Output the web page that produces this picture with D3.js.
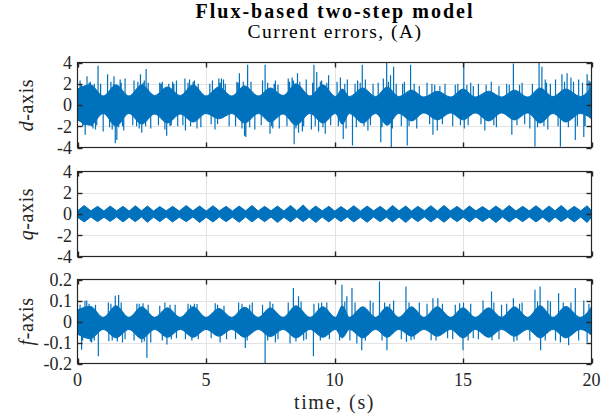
<!DOCTYPE html>
<html lang="en">
<head>
  <meta charset="UTF-8">
  <title>Flux-based two-step model</title>
</head>
<body style="margin:0; background:#fff">
  <div id="chart"></div>
  <script src="https://d3js.org/d3.v7.min.js"></script>
  <script>
    const width = 615
    const height = 419
    const serif = 'Liberation Serif'

    // tick labels
    const timeTicks = [0, 5, 10, 15, 20]
    const currentTicks = [-4, -2, 0, 2, 4]
    const fluxTicks = [-0.2, -0.1, 0, 0.1, 0.2]

    // d / f envelopes: lobe nodes and lobe centres (s)
    const envT = [0, 0.5, 1.0, 1.5, 2.0, 2.5, 3.0, 3.5, 4.0, 4.5,
      5.0, 5.5, 6.0, 6.5, 7.04, 7.5, 8.0, 8.5, 9.05, 9.55,
      10.04, 10.3, 10.58, 11.1, 11.6, 12.05, 12.5, 13.0, 13.48, 14.0,
      14.52, 15.0, 15.48, 16.0, 16.5, 17.0, 17.52, 18.0, 18.5, 19.0,
      19.57, 20]
    const dHi = [1.5, 1.9, 0.85, 1.9, 0.85, 1.9, 0.9, 1.7, 0.9, 1.9,
      0.85, 1.7, 0.85, 1.8, 0.85, 1.6, 0.9, 2.0, 0.85, 1.9,
      0.8, 1.5, 0.8, 1.6, 0.8, 1.7, 0.8, 1.4, 0.75, 1.3,
      0.75, 1.5, 0.75, 1.3, 0.75, 1.4, 0.75, 1.6, 0.8, 1.5,
      0.8, 1.7]
    const dLo = [-1.4, -1.9, -0.8, -2.0, -0.8, -1.8, -0.85, -1.7, -0.85, -1.6,
      -0.8, -1.3, -0.8, -1.7, -0.8, -1.6, -0.85, -1.9, -0.8, -1.7,
      -0.8, -1.8, -0.8, -1.7, -0.8, -1.9, -0.8, -1.5, -0.75, -1.4,
      -0.75, -1.4, -0.75, -1.5, -0.75, -1.4, -0.75, -1.7, -0.8, -1.6,
      -0.8, -1.3]
    const fHi = [0.055, 0.072, 0.02, 0.075, 0.02, 0.07, 0.02, 0.065, 0.02, 0.07,
      0.02, 0.062, 0.02, 0.068, 0.02, 0.065, 0.02, 0.075, 0.02, 0.07,
      0.02, 0.075, 0.02, 0.07, 0.02, 0.07, 0.02, 0.07, 0.02, 0.07,
      0.02, 0.065, 0.02, 0.065, 0.02, 0.07, 0.02, 0.075, 0.02, 0.072,
      0.02, 0.07]
    const fLo = [-0.06, -0.082, -0.038, -0.078, -0.038, -0.082, -0.038, -0.075, -0.038, -0.075,
      -0.038, -0.07, -0.038, -0.075, -0.038, -0.072, -0.038, -0.078, -0.038, -0.075,
      -0.038, -0.078, -0.038, -0.078, -0.038, -0.075, -0.038, -0.07, -0.038, -0.07,
      -0.038, -0.078, -0.038, -0.075, -0.038, -0.07, -0.038, -0.078, -0.038, -0.078,
      -0.038, -0.065]

    // q envelope: nodes and diamond peaks (s)
    const qT = [0, 0.26, 0.52, 0.78, 1.03, 1.27, 1.52, 1.77, 2.01, 2.25,
      2.49, 2.72, 2.96, 3.2, 3.45, 3.7, 3.96, 4.23, 4.49, 4.75,
      5.01, 5.27, 5.52, 5.78, 6.03, 6.29, 6.54, 6.79, 7.03, 7.28,
      7.53, 7.78, 8.03, 8.29, 8.53, 8.78, 9.02, 9.27, 9.52, 9.78,
      10.01, 10.25, 10.5, 10.75, 11.01, 11.27, 11.52, 11.78, 12.02, 12.26,
      12.51, 12.77, 13.0, 13.24, 13.5, 13.75, 14.0, 14.26, 14.51, 14.77,
      15.01, 15.25, 15.5, 15.76, 16.02, 16.28, 16.54, 16.8, 17.06, 17.32,
      17.58, 17.84, 18.1, 18.35, 18.58, 18.82, 19.07, 19.33, 19.58, 19.83,
      20]
    const qHi = [0.3, 0.8, 0.3, 0.72, 0.28, 0.75, 0.3, 0.72, 0.28, 0.78,
      0.3, 0.75, 0.28, 0.7, 0.3, 0.72, 0.28, 0.8, 0.3, 0.75,
      0.28, 0.78, 0.3, 0.72, 0.28, 0.75, 0.3, 0.8, 0.28, 0.72,
      0.3, 0.75, 0.28, 0.8, 0.3, 0.85, 0.28, 0.75, 0.3, 0.72,
      0.28, 0.7, 0.3, 0.78, 0.28, 0.75, 0.3, 0.72, 0.28, 0.8,
      0.3, 0.75, 0.28, 0.72, 0.3, 0.78, 0.28, 0.8, 0.3, 0.72,
      0.28, 0.75, 0.3, 0.7, 0.28, 0.75, 0.3, 0.8, 0.28, 0.72,
      0.3, 0.78, 0.28, 0.75, 0.3, 0.8, 0.28, 0.72, 0.3, 0.78,
      0.3]
    const qLo = [-0.3, -0.75, -0.28, -0.72, -0.3, -0.7, -0.28, -0.75, -0.3, -0.72,
      -0.28, -0.78, -0.3, -0.72, -0.28, -0.75, -0.3, -0.72, -0.28, -0.8,
      -0.3, -0.75, -0.28, -0.72, -0.3, -0.78, -0.28, -0.75, -0.3, -0.72,
      -0.28, -0.8, -0.3, -0.75, -0.28, -0.72, -0.3, -0.8, -0.28, -0.75,
      -0.3, -0.72, -0.28, -0.75, -0.3, -0.78, -0.28, -0.72, -0.3, -0.75,
      -0.28, -0.8, -0.3, -0.72, -0.28, -0.75, -0.3, -0.78, -0.28, -0.72,
      -0.3, -0.75, -0.28, -0.72, -0.3, -0.8, -0.28, -0.75, -0.3, -0.72,
      -0.28, -0.75, -0.3, -0.78, -0.28, -0.72, -0.3, -0.75, -0.28, -0.8,
      -0.3]

    // tall peaks sticking out of the core [time, value]
    const dSpikes = [[0.1, 2.3], [0.2, -2.0], [0.3, -2.8], [0.37, 2.7], [0.5, 2.2], [0.6, -2.2],
      [0.7, -2.3], [0.8, 3.7], [0.9, 2.0], [1.0, -2.5], [1.17, 2.9], [1.3, 2.2], [1.35, -2.3],
      [1.42, 2.7], [1.47, -3.6], [1.53, -3.3], [1.66, 2.4], [1.8, -2.4], [1.85, 2.5], [2.2, 2.3],
      [2.3, -2.0], [2.45, 2.9], [2.5, -2.6], [2.6, 2.3], [2.67, 3.4], [2.85, -2.2], [3.2, 2.1],
      [3.3, 2.2], [3.4, -2.3], [3.47, -2.9], [3.6, -2.0], [3.7, 2.2], [3.85, 2.3], [3.9, -2.0],
      [4.18, 2.5], [4.2, -2.4], [4.36, 2.4], [4.55, 2.3], [4.65, -2.2], [4.8, -2.1], [5.25, 2.3],
      [5.35, -2.3], [5.5, 2.5], [5.6, 2.5], [5.68, 2.4], [5.9, -2.0], [6.2, 2.2], [6.3, 3.0],
      [6.5, -2.9], [6.55, -3.0], [6.62, 3.8], [6.9, -2.3], [7.2, 2.3], [7.3, 3.8], [7.49, -2.7],
      [7.6, -2.2], [7.7, 2.3], [7.85, -2.2], [8.2, 2.5], [8.35, 2.6], [8.43, -3.7], [8.56, 3.0],
      [8.6, -2.6], [8.75, -2.5], [8.9, 2.4], [9.1, -2.3], [9.2, 3.8], [9.31, 3.1], [9.38, -2.5],
      [9.5, 2.3], [9.64, -2.7], [9.77, 2.8], [10.1, 2.2], [10.23, 2.6], [10.34, -3.2], [10.5, 2.4],
      [10.7, -3.8], [10.9, 2.3], [11.08, 3.8], [11.2, 2.4], [11.3, -2.4], [11.5, 2.0], [11.8, -3.5],
      [11.9, 2.5], [12.03, 4.0], [12.18, 2.8], [12.21, -4.0], [12.3, 3.6], [12.6, -2.0], [12.72, 2.2],
      [12.83, -3.8], [12.96, 3.8], [13.2, -2.2], [13.6, 2.1], [13.79, 2.0], [13.83, -2.8], [14.0, -2.4],
      [14.3, 2.0], [14.6, -2.0], [14.8, 2.0], [15.03, 4.0], [15.05, -2.2], [15.3, 2.1], [15.6, 2.0],
      [15.85, -2.4], [16.1, 2.2], [16.3, -2.1], [16.7, 2.0], [16.9, -2.8], [16.96, 3.9], [17.3, 2.1],
      [17.6, -2.2], [17.8, -3.9], [17.96, 4.0], [18.07, 3.6], [18.2, 2.4], [18.3, -2.3], [18.6, 2.4],
      [18.79, -3.9], [18.85, 2.9], [19.05, 3.0], [19.2, 2.6], [19.37, -3.3], [19.5, 2.4], [19.7, -3.0],
      [19.83, 2.9], [19.95, 2.2]]
    // smaller peaks that make the ragged edge of the core [time, value]
    const dFringe = [[0.15, 1.9], [0.25, -1.9], [0.45, 2.1], [0.55, -2.0], [0.65, 2.0], [0.75, -1.9],
      [1.25, -2.1], [1.4, 2.0], [1.6, -2.1], [1.7, 2.1], [1.75, -2.0],
      [2.15, -1.9], [2.35, 2.2], [2.4, -2.2], [2.55, 2.1], [2.65, -2.0], [2.75, 2.1],
      [3.15, -1.9], [3.25, 2.0], [3.55, 2.0], [3.65, -1.9], [3.75, 2.0],
      [4.1, -1.9], [4.3, 2.1], [4.4, -2.0], [4.5, 2.2], [4.7, 2.0],
      [5.15, 2.0], [5.2, -1.8], [5.45, -1.8], [5.55, 2.1], [5.75, 2.0],
      [6.15, -2.0], [6.25, 2.1], [6.4, -2.2], [6.45, 2.2], [6.7, -2.1], [6.75, 2.2],
      [7.15, -1.9], [7.4, 2.1], [7.55, -2.0], [7.65, 2.0], [7.8, 1.9],
      [8.15, -2.0], [8.25, 2.2], [8.4, 2.3], [8.5, -2.2], [8.65, 2.2], [8.8, -2.0],
      [9.15, 2.1], [9.25, -2.0], [9.45, 2.2], [9.55, -2.1], [9.7, 2.1], [9.85, -1.9],
      [10.15, -2.0], [10.4, 2.0], [10.45, -2.2], [10.8, 2.0], [10.85, -2.1], [11.0, 2.1],
      [11.15, -2.0], [11.4, -1.9], [11.7, 2.1], [11.85, -2.1], [12.1, 2.2], [12.25, -2.2], [12.4, 2.0],
      [12.65, 2.0], [12.9, -2.0], [13.1, 2.0], [13.3, 1.8], [13.7, -1.8], [13.9, 1.9], [14.1, 1.8],
      [14.2, -1.8], [14.7, 1.9], [14.9, -1.9], [15.15, 1.9], [15.2, -1.9], [15.4, 1.8], [15.7, -1.8],
      [15.9, 1.9], [16.2, -1.9], [16.4, 1.8], [16.8, 1.9], [17.1, -1.9], [17.2, 1.9], [17.4, -1.8],
      [17.7, 2.0], [17.9, -2.1], [18.15, -2.0], [18.25, 2.1], [18.4, 2.0], [18.7, -2.0], [18.95, 2.2],
      [19.1, -2.1], [19.3, 2.2], [19.45, -2.0], [19.65, 2.1], [19.75, -2.0], [19.9, 2.3]]
    const fSpikes = [[0.16, -0.134], [0.29, 0.099], [0.36, 0.1], [0.55, -0.1], [0.81, -0.166],
      [1.2, 0.09], [1.22, -0.094], [1.47, 0.123], [1.6, 0.126], [1.75, -0.1], [2.31, 0.085],
      [2.5, -0.1], [2.55, 0.087], [2.7, -0.174], [2.85, -0.1], [3.4, 0.09], [3.48, -0.11],
      [3.8, 0.08], [4.3, 0.085], [4.45, -0.09], [4.65, 0.083], [5.36, 0.087], [5.55, -0.1],
      [6.27, 0.09], [6.53, -0.126], [6.8, 0.09], [7.3, -0.198], [7.49, 0.095], [7.7, -0.1],
      [8.27, -0.105], [8.4, 0.16], [8.6, 0.12], [8.8, -0.09], [9.18, -0.166], [9.38, 0.087],
      [9.7, 0.09], [10.29, 0.175], [10.48, 0.12], [10.68, 0.16], [10.87, -0.105], [11.06, -0.137],
      [11.39, 0.1], [11.75, 0.19], [12.04, -0.137], [12.3, 0.1], [12.78, 0.167], [12.8, -0.097],
      [12.98, -0.089], [13.3, 0.09], [13.76, -0.089], [13.83, 0.111], [14.02, 0.111], [14.4, -0.08],
      [14.87, 0.087], [15.0, -0.137], [15.02, 0.09], [15.4, -0.08], [15.78, 0.1], [16.11, 0.143],
      [16.13, -0.089], [16.5, 0.08], [16.96, 0.111], [16.98, -0.097], [17.3, 0.09], [17.8, 0.151],
      [18.0, 0.167], [18.02, -0.137], [18.3, 0.1], [18.72, 0.135], [18.79, -0.1], [19.11, -0.113],
      [19.37, 0.159], [19.7, 0.1], [19.83, -0.1]]
    const fFringe = [[0.1, 0.08], [0.2, -0.09], [0.45, 0.085], [0.5, -0.095], [0.7, 0.08], [0.65, -0.09],
      [1.3, 0.085], [1.35, -0.09], [1.55, -0.095], [1.7, 0.09], [1.85, -0.085],
      [2.2, -0.09], [2.4, 0.085], [2.6, -0.095], [2.75, 0.08],
      [3.2, 0.075], [3.3, -0.09], [3.6, 0.08], [3.65, -0.085], [3.85, -0.08],
      [4.2, -0.085], [4.4, 0.08], [4.55, 0.085], [4.7, -0.085],
      [5.2, -0.08], [5.45, 0.08], [5.7, 0.075], [5.8, -0.085],
      [6.15, -0.085], [6.4, 0.085], [6.6, -0.09], [6.7, 0.08],
      [7.2, 0.08], [7.4, -0.09], [7.6, 0.085], [7.8, -0.085],
      [8.2, 0.09], [8.5, -0.095], [8.7, 0.095], [8.9, -0.085],
      [9.2, 0.085], [9.45, -0.09], [9.5, 0.09], [9.8, -0.085],
      [10.2, -0.09], [10.4, 0.095], [10.6, -0.09], [10.8, 0.09],
      [11.2, -0.09], [11.5, 0.09], [11.85, -0.09], [11.95, 0.09],
      [12.15, 0.085], [12.6, -0.085], [12.9, 0.09], [13.1, -0.085],
      [13.6, 0.085], [13.95, -0.09], [14.2, 0.085], [14.6, -0.085],
      [14.7, 0.08], [15.2, -0.09], [15.3, 0.085], [15.6, -0.085],
      [16.2, 0.09], [16.4, -0.085], [16.7, 0.085], [17.1, -0.09],
      [17.2, 0.085], [17.6, -0.09], [17.9, 0.095], [18.2, -0.09],
      [18.4, 0.095], [18.6, -0.09], [18.9, 0.09], [19.2, 0.09], [19.5, -0.09], [19.9, 0.085]]

    const blue = '#0072BD'
    const axisColor = '#262626'
    const gridColor = '#e3e3e3'

    const x = d3.scaleLinear().domain([0, 20]).range([77.5, 591.5])

    const panels = [
      { name: 'd', top: 62.5, bottom: 147.5, ticks: currentTicks, t: envT, hi: dHi, lo: dLo, peaks: dSpikes.concat(dFringe), curve: d3.curveMonotoneX },
      { name: 'q', top: 171.5, bottom: 256.5, ticks: currentTicks, t: qT, hi: qHi, lo: qLo, peaks: [], curve: d3.curveLinear },
      { name: 'f', top: 279.5, bottom: 363.5, ticks: fluxTicks, t: envT, hi: fHi, lo: fLo, peaks: fSpikes.concat(fFringe), curve: d3.curveMonotoneX }
    ]

    const svg = d3.select('#chart').append('svg')
      .attr('width', width)
      .attr('height', height)

    svg.append('rect').attr('width', width).attr('height', height).attr('fill', '#fff')

    panels.forEach((p, i) => {
      const y = d3.scaleLinear().domain(d3.extent(p.ticks)).range([p.bottom, p.top])
      const g = svg.append('g')
      const clipId = 'clip' + i
      const [x0, x1] = x.range()

      g.append('clipPath').attr('id', clipId)
        .append('rect')
        .attr('x', x0).attr('y', p.top)
        .attr('width', x1 - x0)
        .attr('height', p.bottom - p.top)

      // grid
      g.selectAll('.gy').data(p.ticks.slice(1, -1)).enter().append('line')
        .attr('x1', x0).attr('x2', x1)
        .attr('y1', d => Math.round(y(d)) + 0.5).attr('y2', d => Math.round(y(d)) + 0.5)
        .attr('stroke', gridColor)
      g.selectAll('.gx').data(timeTicks.slice(1, -1)).enter().append('line')
        .attr('x1', d => Math.round(x(d)) + 0.5).attr('x2', d => Math.round(x(d)) + 0.5)
        .attr('y1', p.top).attr('y2', p.bottom)
        .attr('stroke', gridColor)

      const sig = g.append('g').attr('clip-path', `url(#${clipId})`)

      // dense core of the signal
      const rows = d3.zip(p.t, p.hi, p.lo)
      const area = d3.area()
        .curve(p.curve)
        .x(d => x(d[0]))
        .y0(d => y(d[2]))
        .y1(d => y(d[1]))
      sig.append('path')
        .attr('d', area(rows))
        .attr('fill', blue)
        .attr('stroke', blue)
        .attr('stroke-width', 1)

      // peaks
      sig.append('path')
        .attr('d', p.peaks.map(s => `M${x(s[0])},${y(0)}L${x(s[0])},${y(s[1])}`).join(''))
        .attr('stroke', blue)
        .attr('stroke-width', 1.2)
        .attr('fill', 'none')

      // box
      g.append('rect')
        .attr('x', x0).attr('y', p.top)
        .attr('width', x1 - x0)
        .attr('height', p.bottom - p.top)
        .attr('fill', 'none')
        .attr('stroke', axisColor)
        .attr('stroke-width', 1.2)

      // inward ticks on all four sides
      const tl = 5
      const tk = g.append('g').attr('stroke', axisColor).attr('stroke-width', 1.4)
      p.ticks.forEach(v => {
        const yy = Math.round(y(v)) + 0.5
        tk.append('line').attr('x1', x0).attr('x2', x0 + tl).attr('y1', yy).attr('y2', yy)
        tk.append('line').attr('x1', x1).attr('x2', x1 - tl).attr('y1', yy).attr('y2', yy)
      })
      timeTicks.forEach(v => {
        const xx = Math.round(x(v)) + 0.5
        tk.append('line').attr('x1', xx).attr('x2', xx).attr('y1', p.top).attr('y2', p.top + tl)
        tk.append('line').attr('x1', xx).attr('x2', xx).attr('y1', p.bottom).attr('y2', p.bottom - tl)
      })

      // y tick labels
      g.selectAll('.yl').data(p.ticks).enter().append('text')
        .attr('x', 72)
        .attr('y', d => y(d))
        .attr('dy', '0.35em')
        .attr('text-anchor', 'end')
        .attr('font-size', 18)
        .attr('fill', axisColor)
        .text(d => String(d))

      // y axis title
      const yt = g.append('text')
        .attr('transform', `translate(33,${(p.top + p.bottom) / 2}) rotate(-90)`)
        .attr('text-anchor', 'middle')
        .attr('font-size', 20)
        .attr('letter-spacing', 0.6)
        .attr('fill', axisColor)
      yt.append('tspan').attr('font-style', 'italic').text(p.name)
      yt.append('tspan').text('-axis')

      // x tick labels on the bottom panel only
      if (i === panels.length - 1) {
        g.selectAll('.xl').data(timeTicks).enter().append('text')
          .attr('x', d => x(d))
          .attr('y', 386)
          .attr('text-anchor', 'middle')
          .attr('font-size', 18)
          .attr('fill', axisColor)
          .text(d => String(d))
        g.append('text')
          .attr('x', (x0 + x1) / 2)
          .attr('y', 409)
          .attr('text-anchor', 'middle')
          .attr('font-size', 20)
          .attr('letter-spacing', 1.6)
          .attr('fill', axisColor)
          .text('time, (s)')
      }
    })

    svg.append('text')
      .attr('x', 335).attr('y', 18)
      .attr('text-anchor', 'middle')
      .attr('font-size', 20)
      .attr('font-weight', 'bold')
      .attr('letter-spacing', 2)
      .attr('fill', '#000')
      .text('Flux-based two-step model')
    svg.append('text')
      .attr('x', 335).attr('y', 38)
      .attr('text-anchor', 'middle')
      .attr('font-size', 19.5)
      .attr('letter-spacing', 1.5)
      .attr('fill', '#000')
      .text('Current errors, (A)')

    // font on every text element itself
    svg.selectAll('text').style('font-family', serif)
  </script>
</body>
</html>
